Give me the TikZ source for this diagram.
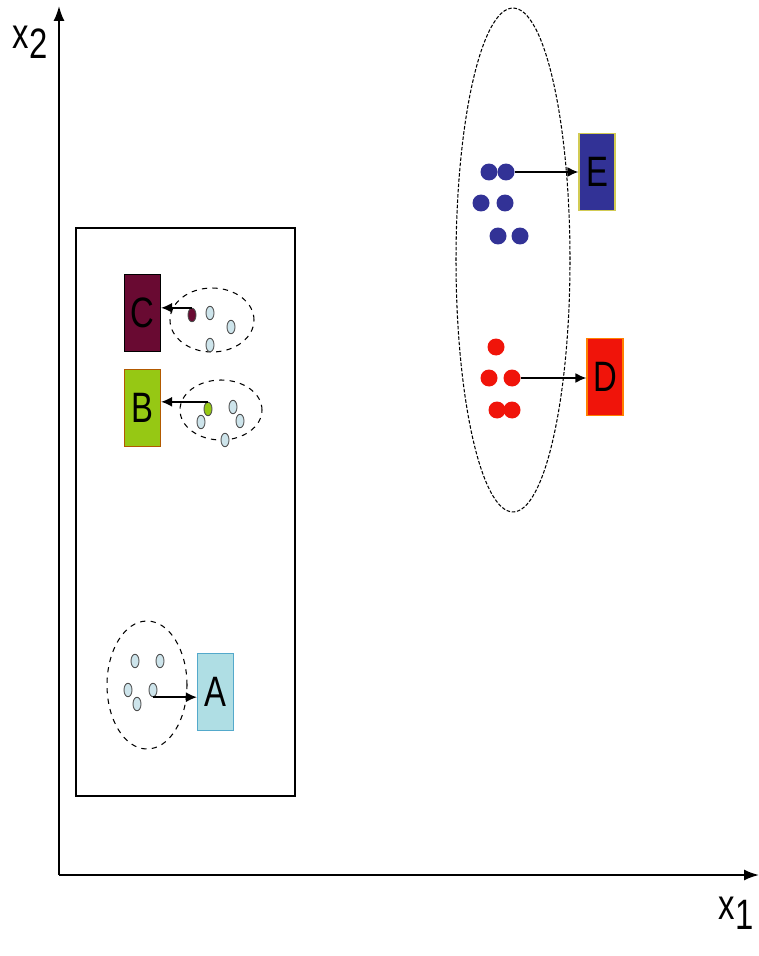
\documentclass[tikz,border=0pt]{standalone}
\usepackage{fontspec}
\setmainfont{Liberation Sans}
\usepackage{xcolor}
\usetikzlibrary{positioning,arrows.meta,shapes.geometric}
\definecolor{clsC}{RGB}{105,10,50}
\definecolor{clsB}{RGB}{150,200,20}
\definecolor{clsA}{RGB}{175,222,228}
\definecolor{clsE}{RGB}{50,50,150}
\definecolor{clsD}{RGB}{240,20,10}
\definecolor{seedblue}{RGB}{205,228,235}

\begin{document}
\begin{tikzpicture}[
  x=0.02cm, y=-0.02cm,
  classbox/.style={draw, line width=0.6pt, minimum width=0.72cm, minimum height=1.54cm, inner sep=0pt, font=\fontsize{22}{22}\selectfont},
  cluster/.style={draw, dashed, line width=0.6pt, ellipse, inner sep=0pt},
  pt/.style={draw=black!70, fill=seedblue, ellipse, line width=0.5pt, minimum width=0.16cm, minimum height=0.27cm, inner sep=0pt},
  blob/.style={circle, inner sep=0pt, minimum size=0.34cm},
  link/.style={-{Latex[length=2.2mm,width=2mm]}, line width=1.1pt},
  axis/.style={-{Latex[length=3mm,width=2.2mm]}, line width=1pt}
]
\useasboundingbox (0,0) rectangle (759,956);
% axes
\coordinate (o) at (59,875);
\coordinate (xend) at (759,875);
\coordinate (yend) at (59,6);
\draw[axis] (o) -- (xend);
\draw[axis] (o) -- (yend);
\node[font=\fontsize{22}{22}\selectfont] (lx2) at (30,42) {\scalebox{0.85}[1.1]{x\raisebox{-0.45ex}{2}}};
\node[font=\fontsize{22}{22}\selectfont] (lx1) at (736,913) {\scalebox{0.85}[1.1]{x\raisebox{-0.45ex}{1}}};

% left region
\draw[line width=1pt] (76,228) rectangle (295,796);

% class C
\node[classbox, fill=clsC] (C) at (142.5,313) {\scalebox{0.85}[1.1]{C}};
\node[cluster, minimum width=1.68cm, minimum height=1.28cm] (cC) at (212,320) {};
\node[pt, fill=clsC] (c1) at (192,315) {};
\node[pt] (c2) at (210,313) {};
\node[pt] (c3) at (231,327) {};
\node[pt] (c4) at (210,345) {};
\draw[link] (c1.north) -- (C.east |- c1.north);

% class B
\node[classbox, fill=clsB, draw=orange!70!black] (B) at (142.5,408) {\scalebox{0.85}[1.1]{B}};
\node[cluster, minimum width=1.64cm, minimum height=1.2cm] (cB) at (221,410) {};
\node[pt, fill=clsB] (b1) at (208,409) {};
\node[pt] (b2) at (233,407) {};
\node[pt] (b3) at (201,422) {};
\node[pt] (b4) at (240,421) {};
\node[pt] (b5) at (225,440) {};
\draw[link] (b1.north) -- (B.east |- b1.north);

% class A
\node[cluster, minimum width=1.6cm, minimum height=2.56cm] (cA) at (147,685) {};
\node[pt] (a1) at (135,661) {};
\node[pt] (a2) at (160,661) {};
\node[pt] (a3) at (128,690) {};
\node[pt] (a4) at (153,690) {};
\node[pt] (a5) at (137,704) {};
\node[classbox, fill=clsA, draw=cyan!60!gray] (A) at (215.5,692) {\scalebox{0.85}[1.1]{A}};
\draw[link] (a4.south) -- (A.west |- a4.south);

% right cluster
\node[cluster, dash pattern=on 2pt off 1pt, minimum width=2.28cm, minimum height=10.08cm] (cR) at (513,260) {};

% class E
\node[classbox, fill=clsE, draw=yellow!60!gray] (E) at (597,172) {\scalebox{0.85}[1.1]{E}};
\node[blob, fill=clsE] (e1) at (489,172) {};
\node[blob, fill=clsE] (e2) at (506,172) {};
\node[blob, fill=clsE] (e3) at (481,203) {};
\node[blob, fill=clsE] (e4) at (505,203) {};
\node[blob, fill=clsE] (e5) at (498,236) {};
\node[blob, fill=clsE] (e6) at (520,236) {};
\draw[link] (e2) -- (E.west |- e2);

% class D
\node[classbox, fill=clsD, draw=orange] (D) at (605,377) {\scalebox{0.85}[1.1]{D}};
\node[blob, fill=clsD] (d1) at (496,347) {};
\node[blob, fill=clsD] (d2) at (489,378) {};
\node[blob, fill=clsD] (d3) at (512,378) {};
\node[blob, fill=clsD] (d4) at (497,410) {};
\node[blob, fill=clsD] (d5) at (512,410) {};
\draw[link] (d3) -- (D.west |- d3);
\end{tikzpicture}
\end{document}
